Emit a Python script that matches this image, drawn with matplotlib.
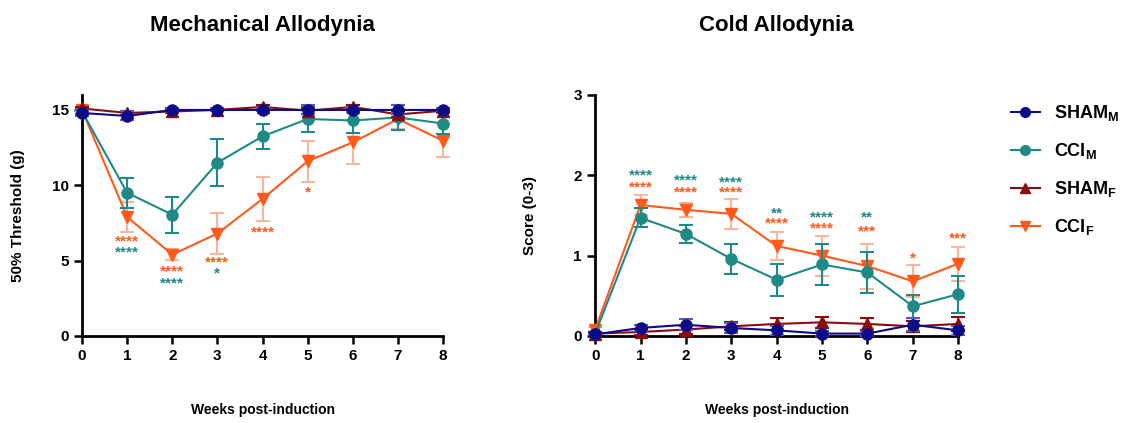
import numpy as np
import matplotlib
matplotlib.use("Agg")
import matplotlib.pyplot as plt
from matplotlib.lines import Line2D

plt.rcParams['font.family'] = ['Liberation Sans', 'DejaVu Sans']
plt.rcParams['font.weight'] = 'bold'
plt.rcParams['mathtext.fontset'] = 'custom'
plt.rcParams['mathtext.rm'] = 'Liberation Sans:bold'
plt.rcParams['mathtext.bf'] = 'Liberation Sans:bold'

weeks = np.arange(9)

# mechanical allodynia, 50% threshold (g)
mech_sham_m = [14.8, 14.6, 15.0, 15.0, 15.0, 15.0, 15.0, 15.0, 15.0]
mech_sham_m_err = [0.2, 0.3, 0.15, 0.1, 0.1, 0.3, 0.15, 0.3, 0.1]
mech_cci_m = [14.9, 9.5, 8.05, 11.5, 13.25, 14.4, 14.3, 14.5, 14.1]
mech_cci_m_err = [0.2, 1.0, 1.2, 1.55, 0.85, 0.85, 0.8, 0.8, 0.7]
mech_sham_f = [15.1, 14.8, 14.9, 15.0, 15.2, 14.95, 15.2, 14.7, 14.95]
mech_sham_f_err = [0.1, 0.15, 0.1, 0.1, 0.15, 0.2, 0.1, 0.2, 0.1]
mech_cci_f = [15.0, 7.9, 5.4, 6.8, 9.1, 11.6, 12.85, 14.4, 12.95]
mech_cci_f_err = [0.15, 1.0, 0.35, 1.35, 1.45, 1.35, 1.45, 0.65, 1.1]

# cold allodynia, score (0-3)
cold_sham_m = [0.02, 0.10, 0.14, 0.10, 0.07, 0.03, 0.03, 0.14, 0.07]
cold_sham_m_err = [0.01, 0.04, 0.07, 0.06, 0.06, 0.03, 0.03, 0.08, 0.06]
cold_cci_m = [0.03, 1.47, 1.27, 0.96, 0.70, 0.89, 0.79, 0.37, 0.52]
cold_cci_m_err = [0.02, 0.12, 0.11, 0.19, 0.20, 0.26, 0.26, 0.14, 0.23]
cold_sham_f = [0.03, 0.05, 0.08, 0.12, 0.15, 0.17, 0.15, 0.12, 0.15]
cold_sham_f_err = [0.02, 0.04, 0.05, 0.05, 0.07, 0.07, 0.07, 0.07, 0.09]
cold_cci_f = [0.08, 1.63, 1.57, 1.52, 1.12, 1.00, 0.87, 0.68, 0.90]
cold_cci_f_err = [0.03, 0.12, 0.09, 0.19, 0.17, 0.25, 0.28, 0.20, 0.21]

# significance stars: (week, y, text)
mech_stars_f = [(1, 6.25, '****'), (2, 4.25, '****'), (3, 4.9, '****'),
                (4, 6.9, '****'), (5, 9.5, '*')]
mech_stars_m = [(1, 5.55, '****'), (2, 3.5, '****'), (3, 4.15, '*')]
cold_stars_m = [(1, 2.0, '****'), (2, 1.94, '****'), (3, 1.91, '****'),
                (4, 1.52, '**'), (5, 1.47, '****'), (6, 1.47, '**')]
cold_stars_f = [(1, 1.85, '****'), (2, 1.79, '****'), (3, 1.79, '****'),
                (4, 1.40, '****'), (5, 1.34, '****'), (6, 1.30, '***'),
                (7, 0.97, '*'), (8, 1.21, '***')]

NAVY = '#0c0c88'
TEAL = '#1f8985'
DRED = '#8a0c0c'
ORNG = '#ff5a1c'

styles = [
    # color, marker, error color, zorder
    (ORNG, 'v', '#f8b69a', 3),
    (TEAL, 'o', TEAL, 4),
    (DRED, '^', DRED, 5),
    (NAVY, 'o', '#5a5ab8', 6),
]


def draw_panel(ax, series, ymax, yticks, ylabel, title, ylpad):
    for (y, err), (col, mk, ecol, z) in zip(series, styles):
        ax.errorbar(weeks, y, yerr=err, color=col, ecolor=ecol, marker=mk,
                    markersize=8, lw=1.5, elinewidth=1.5, capsize=5,
                    capthick=1.5, zorder=z, clip_on=False)
    ax.set_xlim(0, 8)
    ax.set_ylim(0, ymax)
    ax.set_xticks(weeks)
    ax.set_yticks(yticks)
    for s in ['top', 'right']:
        ax.spines[s].set_visible(False)
    for s in ['left', 'bottom']:
        ax.spines[s].set_linewidth(2)
    ax.tick_params(width=1.8, length=6, labelsize=11)
    ax.set_ylabel(ylabel, fontsize=11, fontweight='bold', labelpad=ylpad)
    ax.set_xlabel('Weeks post-induction', fontsize=10, fontweight='bold',
                  labelpad=29)
    ax.set_title(title, fontsize=16, fontweight='bold', pad=46)


def stars(ax, items, color):
    for x, y, t in items:
        ax.text(x, y, t, color=color, fontsize=11, ha='center', va='center',
                zorder=7)


fig = plt.figure(figsize=(11.25, 4.23), dpi=100)
ax1 = fig.add_axes([0.0729, 0.2057, 0.321, 0.570])
ax2 = fig.add_axes([0.529, 0.2057, 0.3227, 0.570])

draw_panel(ax1, [(mech_cci_f, mech_cci_f_err), (mech_cci_m, mech_cci_m_err),
                 (mech_sham_f, mech_sham_f_err), (mech_sham_m, mech_sham_m_err)],
           16, [0, 5, 10, 15], '50% Threshold (g)', 'Mechanical Allodynia', 19)
draw_panel(ax2, [(cold_cci_f, cold_cci_f_err), (cold_cci_m, cold_cci_m_err),
                 (cold_sham_f, cold_sham_f_err), (cold_sham_m, cold_sham_m_err)],
           3, [0, 1, 2, 3], 'Score (0-3)', 'Cold Allodynia', 26)

stars(ax1, mech_stars_f, ORNG)
stars(ax1, mech_stars_m, TEAL)
stars(ax2, cold_stars_m, TEAL)
stars(ax2, cold_stars_f, ORNG)

labels = [r'SHAM$_\mathregular{M}$', r'CCI$_\mathregular{M}$',
          r'SHAM$_\mathregular{F}$', r'CCI$_\mathregular{F}$']
handles = [Line2D([], [], color=NAVY, marker='o', markersize=7, lw=1.5),
           Line2D([], [], color=TEAL, marker='o', markersize=7, lw=1.5),
           Line2D([], [], color=DRED, marker='^', markersize=7, lw=1.5),
           Line2D([], [], color=ORNG, marker='v', markersize=7, lw=1.5)]
fig.legend(handles, labels, loc='upper left', bbox_to_anchor=(0.884, 0.795),
           frameon=False, fontsize=13, handlelength=1.6, labelspacing=1.0)

fig.savefig('out.png', dpi=100, facecolor='white')
